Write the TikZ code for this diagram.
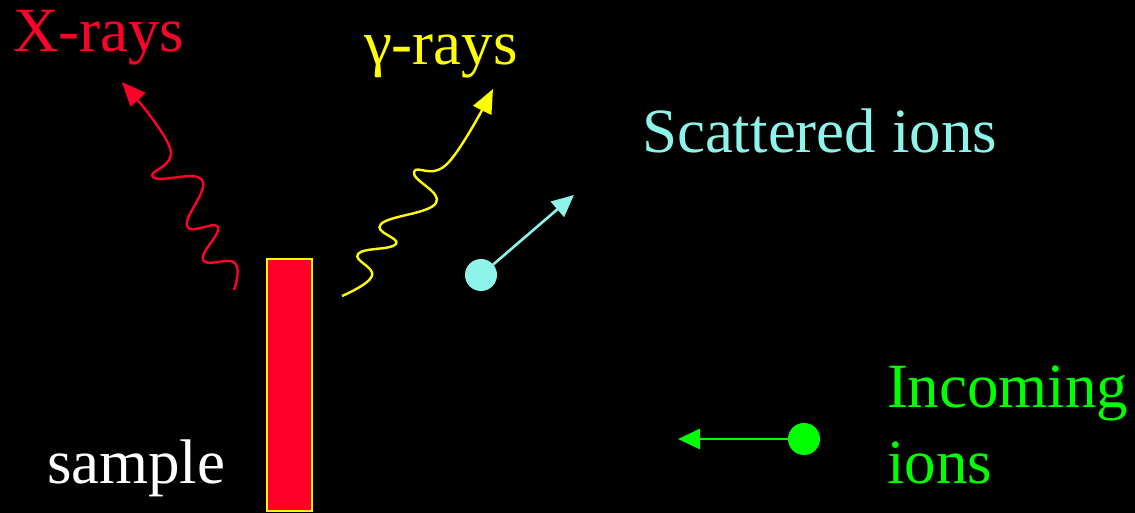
\documentclass[tikz,border=0pt]{standalone}
\usepackage{fontspec}
\setmainfont{Liberation Serif}
\usetikzlibrary{arrows.meta}
\definecolor{xred}{RGB}{255,0,42}
\definecolor{xcyan}{RGB}{140,244,232}
\definecolor{xgreen}{RGB}{0,255,0}
\definecolor{xyellow}{RGB}{255,255,0}
\begin{document}
\begin{tikzpicture}[x=1pt,y=-1pt,
  lbl/.style={anchor=base west,inner sep=0pt,outer sep=0pt,font=\fontsize{63}{76}\selectfont},
  ray/.style={line width=2.4pt,-{Triangle[length=24pt,width=20pt]}},
  ion/.style={circle,inner sep=0pt,outer sep=0pt,minimum size=32pt},
  ionarrow/.style={line width=2.6pt,-{Triangle[length=22pt,width=20pt]}}]
\fill[black] (0,0) rectangle (1135,513);
\useasboundingbox (0,0) rectangle (1135,513);

% sample
\node[draw=xyellow,fill=xred,line width=2pt,minimum width=45pt,minimum height=252pt,
      inner sep=0pt,outer sep=0pt,anchor=north west] (samplebar) at (267,259) {};

% labels
\node[lbl,text=xred] (xlabel) at (13,52) {X-rays};
\node[lbl,text=xyellow] (glabel) at (364,65) {γ-rays};
\node[lbl,text=xcyan] (slabel) at (642,153) {Scattered ions};
\node[lbl,text=xgreen] (ilabel1) at (887,407) {Incoming};
\node[lbl,text=xgreen] (ilabel2) at (887,483) {ions};
\node[lbl,text=white] (samplelabel) at (47,483) {sample};

% X-rays
\coordinate (xstart) at (234,290);
\coordinate (xtip) at (122,82);
\draw[ray,xred] plot[smooth,tension=0.75] coordinates {(xstart) (235,263) (203,260) (218,227) (187,226) (202,180) (153,177) (170,148) (xtip)};

% gamma rays
\coordinate (gstart) at (342,296);
\coordinate (gtip) at (493,89);
\draw[ray,xyellow] plot[smooth,tension=0.75] coordinates {(gstart) (372,276) (358,254) (396,244) (381,224) (436,203) (414,172) (448,163) (gtip)};

% scattered ion
\node[ion,fill=xcyan] (sion) at (481,275) {};
\coordinate (stip) at (574,195);
\draw[ionarrow,xcyan] (sion) -- (stip);

% incoming ion
\node[ion,fill=xgreen] (iion) at (804,439) {};
\coordinate (itip) at (678,439);
\draw[ionarrow,xgreen] (iion) -- (itip);
\end{tikzpicture}
\end{document}
